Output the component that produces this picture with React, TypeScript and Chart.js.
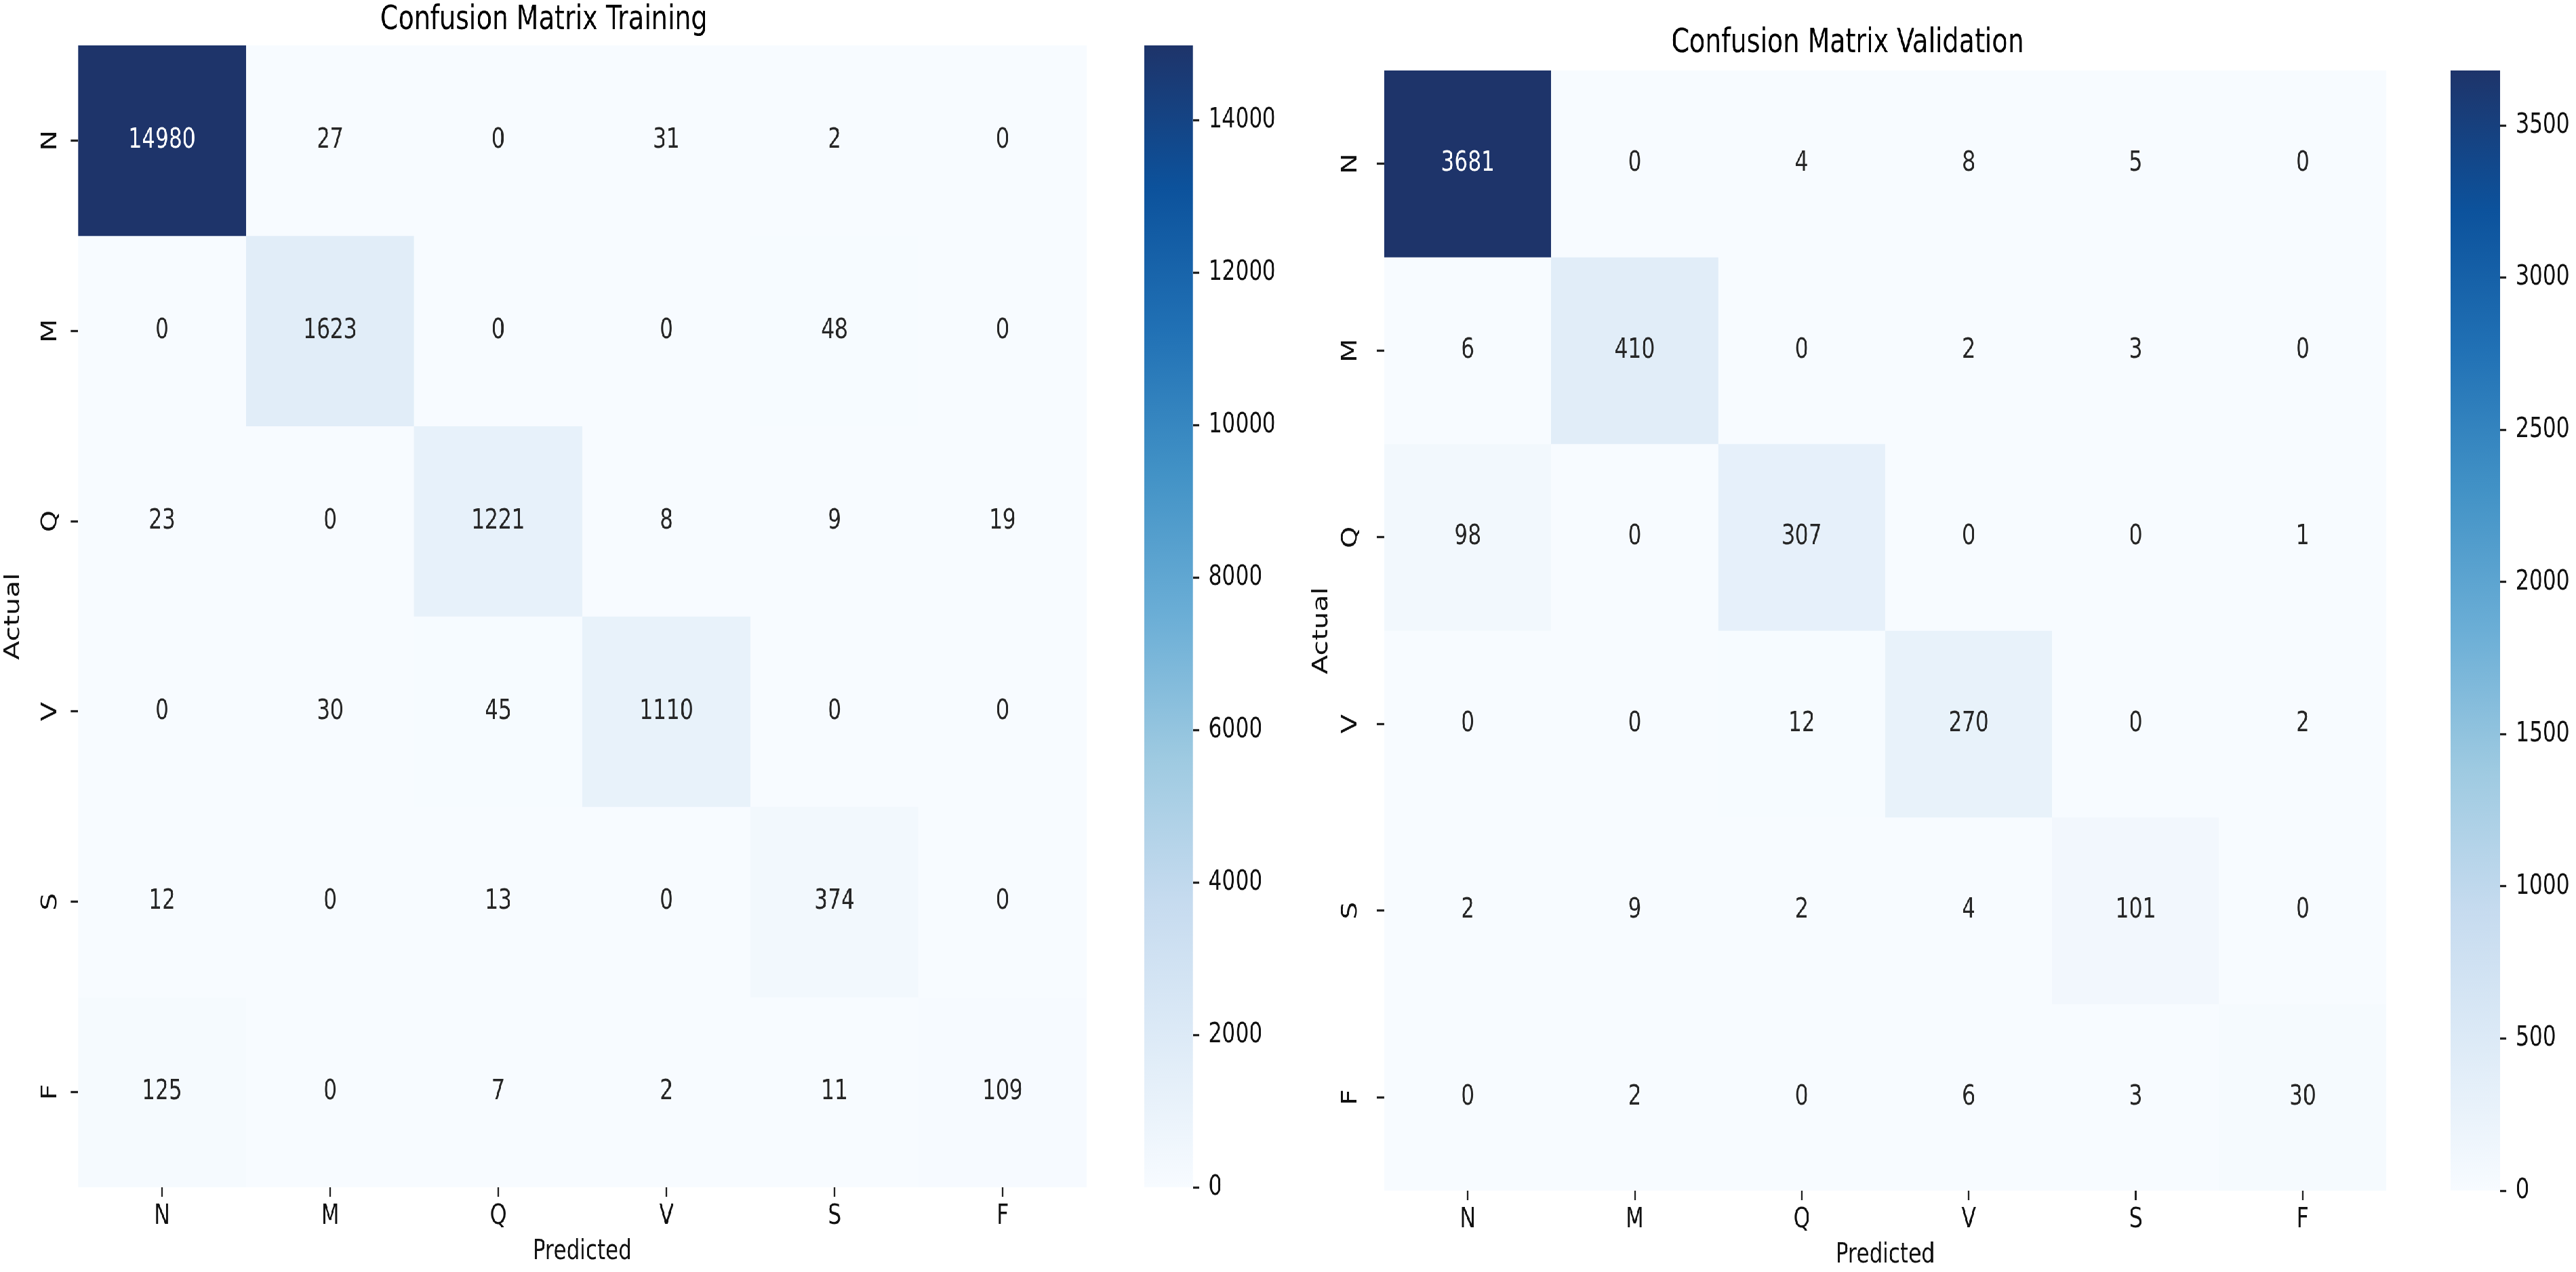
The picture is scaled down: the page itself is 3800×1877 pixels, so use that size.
import React, { useEffect, useRef } from 'react';
import { Chart, registerables } from 'chart.js';

Chart.register(...registerables);

// ---------------- data ----------------
const predictedLabels = ['N', 'M', 'Q', 'V', 'S', 'F'];
const actualLabels = ['N', 'M', 'Q', 'V', 'S', 'F'];

const trainRowN = [14980, 27, 0, 31, 2, 0];
const trainRowM = [0, 1623, 0, 0, 48, 0];
const trainRowQ = [23, 0, 1221, 8, 9, 19];
const trainRowV = [0, 30, 45, 1110, 0, 0];
const trainRowS = [12, 0, 13, 0, 374, 0];
const trainRowF = [125, 0, 7, 2, 11, 109];

const valRowN = [3681, 0, 4, 8, 5, 0];
const valRowM = [6, 410, 0, 2, 3, 0];
const valRowQ = [98, 0, 307, 0, 0, 1];
const valRowV = [0, 0, 12, 270, 0, 2];
const valRowS = [2, 9, 2, 4, 101, 0];
const valRowF = [0, 2, 0, 6, 3, 30];

const trainColorbarTicks = [0, 2000, 4000, 6000, 8000, 10000, 12000, 14000];
const valColorbarTicks = [0, 500, 1000, 1500, 2000, 2500, 3000, 3500];

const trainTitle = 'Confusion Matrix Training';
const valTitle = 'Confusion Matrix Validation';
const xAxisTitle = 'Predicted';
const yAxisTitle = 'Actual';

const trainMatrix = [trainRowN, trainRowM, trainRowQ, trainRowV, trainRowS, trainRowF];
const valMatrix = [valRowN, valRowM, valRowQ, valRowV, valRowS, valRowF];

// ---------------- styling ----------------
const FONT = '"DejaVu Sans", sans-serif';
const SX = 0.76; // horizontal compression of the reference
const PAGE_W = 3800;
const PAGE_H = 1877;
const lx = (v: number) => v / SX;

const BLUES: [number, number[]][] = [
  [0, [247, 251, 255]],
  [0.125, [222, 235, 247]],
  [0.25, [198, 219, 239]],
  [0.375, [158, 202, 225]],
  [0.5, [107, 174, 214]],
  [0.625, [66, 146, 198]],
  [0.75, [33, 113, 181]],
  [0.875, [12, 82, 156]],
  [1, [30, 52, 106]],
];

function bluesRgb(t: number): number[] {
  const tt = Math.max(0, Math.min(1, t));
  for (let i = 1; i < BLUES.length; i++) {
    const [t1, c1] = BLUES[i];
    const [t0, c0] = BLUES[i - 1];
    if (tt <= t1) {
      const f = (tt - t0) / (t1 - t0);
      return c0.map((c, k) => Math.round(c + (c1[k] - c) * f));
    }
  }
  return BLUES[BLUES.length - 1][1];
}
const rgbStr = (c: number[]) => `rgb(${c[0]},${c[1]},${c[2]})`;

function textColorFor(t: number) {
  const c = bluesRgb(t).map((v) => {
    const s = v / 255;
    return s <= 0.03928 ? s / 12.92 : Math.pow((s + 0.055) / 1.055, 2.4);
  });
  const lum = 0.2126 * c[0] + 0.7152 * c[1] + 0.0722 * c[2];
  return lum > 0.408 ? '#262626' : '#ffffff';
}

type PanelLayout = {
  heat: { left: number; right: number; top: number; bottom: number };
  titleTop: number;
  actualX: number;
  yTickX: number;
  cb: { left: number; right: number };
};

const trainLayout: PanelLayout = {
  heat: { left: 115, right: 1603, top: 67, bottom: 1752 },
  titleTop: 0,
  actualX: 20,
  yTickX: 75,
  cb: { left: 1688, right: 1760 },
};
const valLayout: PanelLayout = {
  heat: { left: 2042, right: 3520, top: 104, bottom: 1757 },
  titleTop: 34,
  actualX: 1950,
  yTickX: 1993,
  cb: { left: 3615, right: 3688 },
};

const TICK_FONT = 41;
const TITLE_FONT = 50;
const TICK_LEN = 14;
const X_AXIS_H = 120;

function ChartCanvas({ left, top, width, height, makeConfig }: any) {
  const ref = useRef<HTMLCanvasElement | null>(null);
  useEffect(() => {
    const chart = new Chart(ref.current as HTMLCanvasElement, makeConfig());
    return () => chart.destroy();
  }, []);
  return (
    <canvas
      ref={ref}
      width={width}
      height={height}
      style={{ position: 'absolute', left, top, width, height }}
    />
  );
}

function heatmapConfig(matrix: number[][], title: string, lay: PanelLayout, geom: any) {
  const vmax = Math.max(...matrix.flat());
  const tickFont = { family: FONT, size: TICK_FONT };
  const cellText = {
    id: 'cellText',
    afterDatasetsDraw(chart: any) {
      const ctx = chart.ctx;
      ctx.save();
      ctx.font = `${TICK_FONT}px ${FONT}`;
      ctx.textAlign = 'center';
      ctx.textBaseline = 'middle';
      chart.data.datasets.forEach((_ds: any, i: number) => {
        const meta = chart.getDatasetMeta(i);
        meta.data.forEach((el: any, j: number) => {
          const v = matrix[i][j];
          const { x, y, base } = el.getProps(['x', 'y', 'base'], true);
          ctx.fillStyle = textColorFor(v / vmax);
          ctx.fillText(String(v), x, (y + base) / 2);
        });
      });
      ctx.restore();
    },
  };
  return {
    type: 'bar',
    data: {
      labels: predictedLabels,
      datasets: matrix.map((row, i) => ({
        data: row.map(() => [i, i + 1]),
        backgroundColor: row.map((v) => rgbStr(bluesRgb(v / vmax))),
        borderWidth: 0,
        grouped: false,
        categoryPercentage: 1,
        barPercentage: 1,
      })),
    },
    options: {
      animation: false,
      responsive: false,
      events: [],
      layout: {
        padding: { left: 0, right: geom.padRight, top: lay.titleTop, bottom: geom.padBottom },
      },
      plugins: {
        legend: { display: false },
        tooltip: { enabled: false },
        title: {
          display: true,
          text: title,
          color: '#000',
          font: { family: FONT, size: TITLE_FONT, weight: 'normal' },
          padding: { top: 0, bottom: geom.titleGap },
        },
      },
      scales: {
        x: {
          type: 'category',
          offset: true,
          border: { display: false },
          grid: {
            offset: false,
            drawOnChartArea: false,
            drawTicks: true,
            tickLength: TICK_LEN,
            tickWidth: 3.3,
            tickColor: '#222',
          },
          ticks: { font: tickFont, color: '#111', padding: 5, minRotation: 0, maxRotation: 0 },
          title: {
            display: true,
            text: xAxisTitle,
            color: '#111',
            font: tickFont,
            padding: { top: 0, bottom: 0 },
          },
          afterFit: (s: any) => {
            s.height = X_AXIS_H;
          },
        },
        y: {
          type: 'linear',
          min: 0,
          max: actualLabels.length,
          reverse: true,
          border: { display: false },
          grid: {
            drawOnChartArea: false,
            drawTicks: true,
            tickLength: TICK_LEN,
            tickWidth: 3.3,
            tickColor: '#222',
          },
          afterBuildTicks: (s: any) => {
            s.ticks = actualLabels.map((_l, i) => ({ value: i + 0.5 }));
          },
          ticks: {
            font: tickFont,
            color: '#111',
            minRotation: 90,
            maxRotation: 90,
            crossAlign: 'center',
            padding: geom.yTickPad,
            callback: (_v: any, idx: number) => actualLabels[idx],
          },
          title: {
            display: true,
            text: yAxisTitle,
            color: '#111',
            font: tickFont,
            padding: { top: 0, bottom: 0 },
          },
          afterFit: (s: any) => {
            s.width = geom.yW;
          },
        },
      },
    },
    plugins: [cellText],
  };
}

function colorbarConfig(matrix: number[][], ticksArr: number[], lay: PanelLayout, axisW: number) {
  const vmax = Math.max(...matrix.flat());
  const tickFont = { family: FONT, size: TICK_FONT };
  return {
    type: 'bar',
    data: {
      labels: [''],
      datasets: [
        {
          data: [[0, vmax]],
          borderWidth: 0,
          categoryPercentage: 1,
          barPercentage: 1,
          backgroundColor: (c: any) => {
            const chart = c.chart;
            if (!chart.chartArea || !chart.scales.y) return rgbStr(bluesRgb(0.5));
            const ys = chart.scales.y;
            const g = chart.ctx.createLinearGradient(0, ys.getPixelForValue(0), 0, ys.getPixelForValue(vmax));
            BLUES.forEach(([t, col]) => g.addColorStop(t, rgbStr(col)));
            return g;
          },
        },
      ],
    },
    options: {
      animation: false,
      responsive: false,
      events: [],
      layout: {
        padding: { left: 0, right: 0, top: lay.heat.top, bottom: PAGE_H - lay.heat.bottom },
      },
      plugins: { legend: { display: false }, tooltip: { enabled: false } },
      scales: {
        x: { display: false, offset: true },
        y: {
          type: 'linear',
          position: 'right',
          min: 0,
          max: vmax,
          border: { display: false },
          grid: {
            drawOnChartArea: false,
            drawTicks: true,
            tickLength: 12,
            tickWidth: 3.3,
            tickColor: '#222',
          },
          afterBuildTicks: (s: any) => {
            s.ticks = ticksArr.map((v) => ({ value: v }));
          },
          ticks: {
            font: tickFont,
            color: '#111',
            padding: 18,
            callback: (v: any) => String(v),
          },
          afterFit: (s: any) => {
            s.width = axisW;
          },
        },
      },
    },
  };
}

function heatGeom(lay: PanelLayout) {
  const L = lx(lay.heat.left);
  const R = lx(lay.heat.right);
  const C = (L + R) / 2;
  const x0 = Math.round(lx(lay.actualX) - (TICK_FONT * 1.2) / 2);
  const width = Math.round(2 * (C - x0));
  const yW = L - x0;
  const padRight = width - yW - (R - L);
  const titleGap = lay.heat.top - lay.titleTop - TITLE_FONT * 1.2;
  const padBottom = PAGE_H - lay.heat.bottom - X_AXIS_H;
  const widestHalf = (TICK_FONT * 0.863) / 2;
  const yTickPad = L - lx(lay.yTickX) - TICK_LEN - widestHalf;
  return { x0, width, yW, padRight, titleGap, padBottom, yTickPad };
}

function Panel({ matrix, title, lay, ticksArr }: any) {
  const g = heatGeom(lay);
  const cbLeft = Math.round(lx(lay.cb.left));
  const cbBarW = lx(lay.cb.right) - lx(lay.cb.left);
  const axisW = 300;
  const cbWidth = Math.round(cbBarW + axisW);
  const axisWAdj = cbWidth - cbBarW;
  return (
    <>
      <ChartCanvas
        left={g.x0}
        top={0}
        width={g.width}
        height={PAGE_H}
        makeConfig={() => heatmapConfig(matrix, title, lay, g)}
      />
      <ChartCanvas
        left={cbLeft}
        top={0}
        width={cbWidth}
        height={PAGE_H}
        makeConfig={() => colorbarConfig(matrix, ticksArr, lay, axisWAdj)}
      />
    </>
  );
}

export default function App() {
  useEffect(() => {
    document.body.style.margin = '0';
    document.body.style.background = '#fff';
  }, []);
  return (
    <div style={{ position: 'relative', width: PAGE_W, height: PAGE_H, overflow: 'hidden', background: '#fff' }}>
      <div
        style={{
          position: 'absolute',
          left: 0,
          top: 0,
          width: lx(PAGE_W),
          height: PAGE_H,
          transform: `scaleX(${SX})`,
          transformOrigin: '0 0',
        }}
      >
        <Panel matrix={trainMatrix} title={trainTitle} lay={trainLayout} ticksArr={trainColorbarTicks} />
        <Panel matrix={valMatrix} title={valTitle} lay={valLayout} ticksArr={valColorbarTicks} />
      </div>
    </div>
  );
}
